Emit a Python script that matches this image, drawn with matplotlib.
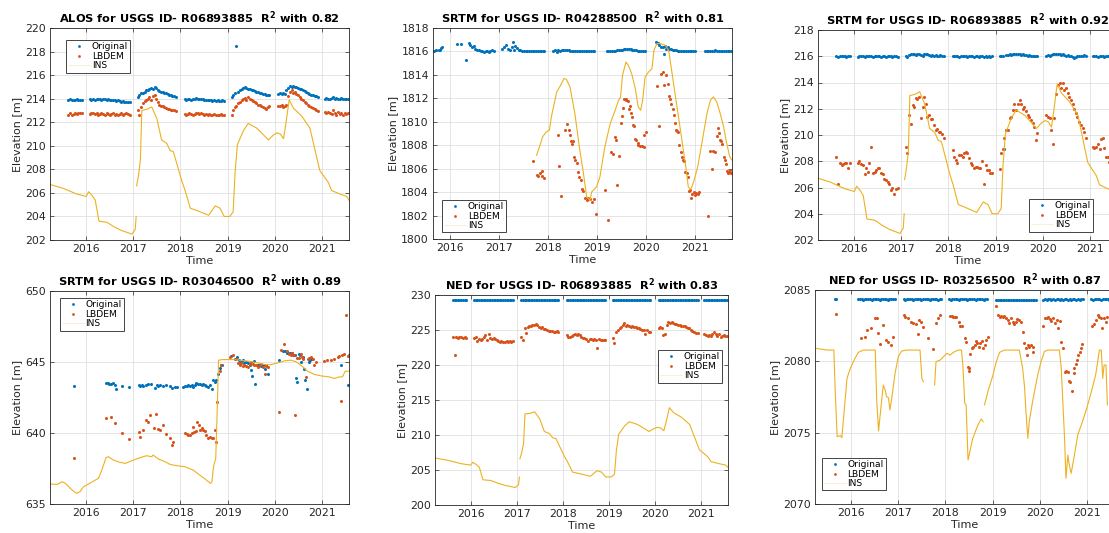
import numpy as np
import matplotlib
matplotlib.use("Agg")
import matplotlib.pyplot as plt

nan = np.nan

BLUE = "#0072BD"
RED = "#D95319"
YELLOW = "#EDB120"
INK = "#262626"

YEARS = [2016, 2017, 2018, 2019, 2020, 2021]

# ---------------------------------------------------------------- R06893885
# pass dates shared by the three DEMs at this gauge
dates_885 = [
    2015.62, 2015.66, 2015.69, 2015.73, 2015.76, 2015.80, 2015.83, 2015.87, 2015.90,
    2016.08, 2016.11, 2016.15, 2016.18, 2016.22, 2016.25, 2016.29, 2016.32, 2016.36, 2016.39,
    2016.43, 2016.46, 2016.50, 2016.53, 2016.57, 2016.60, 2016.64, 2016.67, 2016.71, 2016.74,
    2016.78, 2016.81, 2016.85, 2016.88, 2016.92,
    2017.10, 2017.13, 2017.17, 2017.20, 2017.24, 2017.27, 2017.31, 2017.34, 2017.38, 2017.41,
    2017.45, 2017.48, 2017.52, 2017.55, 2017.59, 2017.62, 2017.66, 2017.69, 2017.73, 2017.76,
    2017.80, 2017.83, 2017.87, 2017.90,
    2018.09, 2018.12, 2018.16, 2018.19, 2018.23, 2018.26, 2018.30, 2018.33, 2018.37, 2018.40,
    2018.44, 2018.47, 2018.51, 2018.54, 2018.58, 2018.61, 2018.65, 2018.68, 2018.72, 2018.75,
    2018.79, 2018.82, 2018.86, 2018.89, 2018.92,
    2019.09, 2019.12, 2019.16, 2019.19, 2019.23, 2019.26, 2019.30, 2019.33, 2019.37, 2019.40,
    2019.44, 2019.47, 2019.51, 2019.54, 2019.58, 2019.61, 2019.65, 2019.68, 2019.72, 2019.75,
    2019.79, 2019.82, 2019.86, 2019.89,
    2020.08, 2020.11, 2020.15, 2020.18, 2020.22, 2020.25, 2020.29, 2020.32, 2020.36, 2020.39,
    2020.43, 2020.46, 2020.50, 2020.53, 2020.57, 2020.60, 2020.64, 2020.67, 2020.71, 2020.74,
    2020.78, 2020.81, 2020.85, 2020.88, 2020.92,
    2021.07, 2021.10, 2021.14, 2021.17, 2021.21, 2021.24, 2021.28, 2021.31, 2021.35, 2021.38,
    2021.42, 2021.45, 2021.49, 2021.52, 2021.56,
]

alos_orig = [
    213.90, 213.95, 213.90, 213.85, 213.90, 213.95, 213.90, 213.85, 213.90,
    213.95, 213.90, 213.95, 213.90, 213.95, 214.00, 213.95, 213.90, 214.00, 213.95,
    213.90, 213.95, 213.90, 213.85, 213.90, 213.85, 213.80, 213.85, 213.80, 213.75,
    213.80, 213.75, 213.70, 213.75, 213.70,
    214.10, 214.30, 214.45, 214.50, 214.60, 214.70, 214.75, 214.80, 214.90, 214.85,
    214.95, 214.90, 214.75, 214.65, 214.60, 214.55, 214.50, 214.45, 214.40, 214.35,
    214.30, 214.25, 214.20, 214.15,
    213.95, 213.90, 214.00, 213.95, 213.90, 213.95, 214.00, 214.05, 214.00, 213.95,
    214.00, 213.95, 213.90, 213.90, 213.85, 213.90, 213.85, 213.80, 213.85, 213.80,
    213.85, 213.80, 213.80, 213.85, 213.80,
    214.15, 214.35, 214.45, 218.50, 214.60, 214.70, 214.80, 214.90, 214.95, 214.90,
    214.85, 214.80, 214.75, 214.70, 214.65, 214.60, 214.55, 214.50, 214.45, 214.40,
    214.40, 214.35, 214.30, 214.35,
    214.40, 214.45, 214.40, 214.45, 214.40, 214.70, 214.90, 215.05, 215.00, 215.05,
    215.00, 214.95, 214.90, 214.85, 214.80, 214.70, 214.65, 214.55, 214.50, 214.40,
    214.35, 214.30, 214.25, 214.20, 214.15,
    214.00, 214.05, 214.00, 213.95, 214.05, 214.10, 214.00, 214.05, 213.95, 214.00,
    214.05, 214.00, 213.95, 214.00, 213.95,
]

alos_lbdem = [
    212.65, 212.75, 212.60, 212.70, 212.75, 212.70, 212.80, 212.75, 212.80,
    212.70, 212.75, 212.80, 212.70, 212.75, 212.65, 212.70, 212.80, 212.70, 212.60,
    212.75, 212.70, 212.65, 212.70, 212.75, 212.65, 212.70, 212.60, 212.70, 212.75,
    212.65, 212.70, 212.75, 212.70, 212.65,
    213.00, 212.65, 213.30, 213.60, 213.80, 213.90, 214.00, 214.10, 213.85, 214.20,
    214.30, 214.00, 213.70, 213.50, 213.40, 213.35, 213.30, 213.20, 213.10, 213.10,
    213.05, 213.00, 213.00, 212.95,
    212.70, 212.65, 212.70, 212.75, 212.70, 212.65, 212.70, 212.75, 212.80, 212.70,
    212.75, 212.70, 212.65, 212.70, 212.60, 212.70, 212.65, 212.60, 212.70, 212.65,
    212.60, 212.65, 212.70, 212.60, 212.65,
    212.60, 213.00, 213.30, 213.40, 213.60, 213.70, 213.90, 214.00, 214.05, 213.90,
    214.10, 214.00, 213.85, 213.80, 213.70, 213.60, 213.50, 213.45, 213.35, 213.30,
    213.20, 213.15, 213.30, 213.40,
    213.40, 213.35, 213.45, 213.30, 213.40, 213.50, 214.20, 214.60, 214.70, 214.50,
    214.60, 214.40, 214.30, 214.15, 214.00, 213.85, 213.70, 213.60, 213.50, 213.40,
    213.30, 213.20, 213.10, 213.05, 212.95,
    212.90, 212.75, 212.85, 212.80, 212.70, 213.00, 212.80, 212.65, 212.90, 212.70,
    212.80, 212.60, 212.75, 212.70, 212.80,
]

srtm885_orig = [
    216.00, 215.98, 216.00, 216.00, 216.02, 216.00, 215.98, 216.00, 216.00,
    215.98, 216.00, 216.02, 216.00, 215.98, 216.00, 216.00, 216.02, 216.00, 215.98,
    216.00, 216.00, 216.02, 216.00, 215.98, 216.00, 216.00, 215.98, 216.00, 216.02,
    216.00, 215.98, 216.00, 216.00, 215.98,
    216.05, 215.95, 216.10, 216.15, 216.20, 216.15, 216.10, 216.20, 216.15, 216.10,
    216.05, 216.15, 216.20, 216.15, 216.10, 216.05, 216.10, 216.05, 216.10, 216.05,
    216.05, 216.10, 216.05, 216.05,
    216.02, 216.00, 216.02, 216.00, 215.98, 216.00, 216.02, 216.00, 216.00, 215.98,
    216.00, 216.02, 216.00, 215.98, 216.00, 216.00, 215.98, 216.00, 216.00, 215.98,
    216.00, 215.98, 216.00, 215.98, 216.00,
    216.00, 216.05, 216.05, 208.95, 216.10, 216.10, 216.15, 216.10, 216.15, 216.20,
    216.15, 216.20, 216.15, 216.10, 216.15, 216.10, 216.10, 216.05, 216.10, 216.05,
    216.05, 216.00, 216.05, 216.00,
    216.05, 216.10, 216.05, 216.10, 216.15, 216.20, 216.15, 216.20, 216.15, 216.10,
    216.15, 216.10, 216.05, 216.10, 216.05, 216.00, 215.95, 215.90, 215.95, 216.00,
    216.05, 216.00, 216.05, 216.10, 216.05,
    216.00, 216.02, 216.00, 215.98, 216.00, 216.02, 216.00, 215.98, 216.00, 216.02,
    216.00, 216.00, 215.98, 216.00, 216.00,
]

srtm885_lbdem = [
    208.35, 206.30, 207.85, 207.70, 207.80, 207.85, 207.85, 207.50, 207.85,
    207.90, 208.00, 207.80, 207.70, 207.00, 207.50, 207.20, 207.85, 209.05, 207.10,
    207.20, 207.35, 207.45, 207.45, 207.10, 207.00, 206.65, 206.60, 206.40, 206.30,
    205.80, 205.95, 205.50, 205.90, 206.00,
    209.05, 208.65, 211.50, 210.85, 212.30, 212.15, 212.80, 212.75, 212.90, 211.30,
    212.15, 212.90, 212.40, 211.40, 211.50, 211.20, 211.20, 210.75, 210.40, 210.45,
    210.25, 210.20, 210.10, 209.75,
    208.85, 208.35, 208.10, 207.90, 208.45, 208.45, 208.35, 208.65, 208.70, 208.60,
    208.25, 207.90, 207.75, 207.45, 207.60, 207.60, 207.45, 207.45, 208.00, 206.30,
    207.70, 207.35, 207.35, 207.10, 207.10,
    207.40, 208.60, 208.95, 209.75, 210.40, 210.40, 211.30, 211.35, 211.90, 212.40,
    211.90, 212.40, 212.65, 212.40, 212.00, 212.15, 211.80, 211.50, 211.40, 211.15,
    210.90, 210.60, 209.60, 210.15,
    211.50, 211.40, 211.30, 210.40, 209.35, 211.30, 213.10, 213.80, 214.00, 213.60,
    214.00, 213.45, 213.60, 213.20, 212.90, 212.65, 212.40, 212.00, 211.65, 211.35,
    211.00, 210.75, 210.50, 210.20, 209.75,
    209.10, 209.00, 209.05, 209.30, 208.90, 209.70, 209.80, 209.00, 208.35, 208.35,
    207.95, 208.20, 208.50, 208.10, 208.30,
]

ned885_orig = [
    229.30, 229.30, 229.28, 229.30, 229.32, 229.30, 229.30, 229.28, 229.30,
    229.30, 229.28, 229.30, 229.32, 229.30, 229.30, 229.28, 229.30, 229.30, 229.32,
    229.30, 229.28, 229.30, 229.30, 229.32, 229.30, 229.28, 229.30, 229.30, 229.32,
    229.30, 229.30, 229.28, 229.30, 229.30,
    229.30, 229.32, 229.30, 229.28, 229.30, 229.30, 229.32, 229.30, 229.28, 229.30,
    229.30, 229.32, 229.30, 229.28, 229.30, 229.30, 229.32, 229.30, 229.28, 229.30,
    229.30, 229.32, 229.30, 229.30,
    229.30, 229.28, 229.30, 229.32, 229.30, 229.30, 229.28, 229.30, 229.30, 229.32,
    229.30, 229.28, 229.30, 229.30, 229.32, 229.30, 229.28, 229.30, 229.30, 229.32,
    229.30, 229.30, 229.28, 229.30, 229.30,
    229.30, 229.32, 229.30, 229.28, 229.30, 229.30, 229.32, 229.30, 229.28, 229.30,
    229.30, 229.32, 229.30, 229.28, 229.30, 229.30, 229.32, 229.30, 229.28, 229.30,
    229.30, 229.32, 229.30, 229.30,
    229.30, 229.28, 229.30, 229.32, 229.30, 229.30, 229.28, 229.30, 229.30, 229.32,
    229.30, 229.28, 229.30, 229.30, 229.32, 229.30, 229.28, 229.30, 229.30, 229.32,
    229.30, 229.30, 229.28, 229.30, 229.30,
    229.30, 229.28, 229.30, 229.32, 229.30, 229.30, 229.28, 229.30, 229.30, 229.32,
    229.30, 229.28, 229.30, 229.30, 229.30,
]

ned885_lbdem = [
    224.05, 221.50, 224.05, 223.90, 224.00, 224.05, 223.90, 223.95, 223.90,
    223.90, 224.05, 223.40, 223.70, 223.55, 223.70, 224.05, 224.30, 223.55, 224.50,
    223.80, 223.70, 223.90, 223.70, 223.55, 223.50, 223.35, 223.40, 223.25, 223.25,
    223.40, 223.25, 223.50, 223.30, 223.45,
    224.05, 223.55, 225.30, 224.60, 225.45, 225.55, 225.60, 225.70, 225.70, 225.85,
    225.70, 225.45, 225.25, 225.40, 225.10, 225.10, 225.00, 224.90, 224.85, 224.85,
    224.75, 224.75, 224.80, 224.75,
    224.30, 224.05, 223.95, 224.15, 224.30, 224.40, 224.30, 224.45, 224.30, 224.05,
    223.90, 223.80, 223.70, 223.40, 223.70, 223.70, 223.60, 223.70, 223.55, 222.40,
    223.70, 223.55, 223.60, 223.55, 223.60,
    223.80, 223.20, 224.75, 225.00, 225.25, 225.45, 225.70, 225.95, 225.55, 225.70,
    225.55, 225.45, 225.55, 225.45, 225.40, 225.25, 225.25, 225.15, 225.00, 225.00,
    224.40, 225.00, 224.75, 224.75,
    225.30, 225.45, 225.25, 224.30, 224.50, 225.70, 226.10, 225.95, 226.10, 225.95,
    225.85, 225.80, 225.70, 225.70, 225.60, 225.55, 225.55, 225.45, 225.30, 225.25,
    225.00, 224.85, 224.75, 224.60, 224.60,
    224.50, 224.30, 224.20, 224.30, 224.20, 224.50, 224.75, 224.50, 224.20, 224.45,
    224.05, 224.20, 224.30, 224.15, 224.10,
]

ins_885_t = [
    2015.24, 2015.50, 2015.80, 2016.00, 2016.05, 2016.12, 2016.19, 2016.27, 2016.44, 2016.60,
    2016.75, 2016.90, 2016.97, 2017.04, 2017.06, nan, 2017.07, 2017.11, 2017.15, 2017.18,
    2017.29, 2017.39, 2017.50, 2017.60, 2017.71, 2017.78, 2017.85, 2018.03, 2018.10, 2018.21,
    2018.35, 2018.60, 2018.74, 2018.84, 2018.93, 2019.05, 2019.12, 2019.16, 2019.21, 2019.34,
    2019.44, 2019.62, 2019.87, 2019.97, 2020.05, 2020.12, 2020.19, 2020.24, 2020.31, 2020.40,
    2020.58, 2020.68, 2020.75, 2020.86, 2020.96, 2021.14, 2021.21, 2021.39, 2021.53, 2021.59,
]
ins_885_v = [
    206.7, 206.4, 205.9, 205.7, 206.1, 205.8, 205.4, 203.6, 203.5, 203.1,
    202.8, 202.6, 202.5, 202.9, 204.0, nan, 206.6, 207.5, 208.8, 213.0,
    213.1, 213.3, 212.3, 210.5, 210.2, 209.6, 209.5, 207.0, 206.2, 204.7,
    204.5, 204.1, 204.9, 204.7, 204.0, 204.0, 204.4, 207.7, 210.1, 211.3,
    211.9, 211.5, 210.5, 210.9, 211.1, 211.0, 210.6, 211.9, 213.9, 213.2,
    212.5, 211.9, 211.5, 209.6, 207.9, 206.9, 206.2, 205.9, 205.7, 205.3,
]

# ---------------------------------------------------------------- R04288500
srtm288_orig = [
    (2015.69, 1816.04), (2015.73, 1816.10), (2015.78, 1816.10), (2015.81, 1816.15),
    (2015.83, 1816.30), (2015.85, 1816.38),
    (2016.15, 1816.67), (2016.24, 1816.67), (2016.33, 1815.30), (2016.39, 1816.72),
    (2016.42, 1816.52), (2016.46, 1816.38), (2016.49, 1816.44), (2016.52, 1816.24),
    (2016.56, 1816.10), (2016.59, 1816.15), (2016.63, 1816.00), (2016.66, 1816.04),
    (2016.69, 1815.95), (2016.73, 1816.04), (2016.76, 1816.00), (2016.80, 1815.95),
    (2016.83, 1816.04), (2016.86, 1816.10), (2016.90, 1816.04),
    (2017.07, 1816.24), (2017.10, 1816.38), (2017.14, 1816.52), (2017.19, 1816.24),
    (2017.22, 1816.15), (2017.26, 1816.38), (2017.29, 1816.80), (2017.31, 1816.10),
    (2017.34, 1816.44), (2017.37, 1816.32), (2017.41, 1816.15), (2017.44, 1816.10),
    (2017.48, 1816.04), (2017.51, 1816.02), (2017.55, 1816.04), (2017.58, 1816.00),
    (2017.62, 1816.02), (2017.65, 1816.04), (2017.69, 1816.00), (2017.72, 1816.02),
    (2017.76, 1816.00), (2017.79, 1816.04), (2017.83, 1816.02), (2017.86, 1816.00),
    (2017.90, 1816.04), (2017.93, 1816.06),
    (2018.11, 1816.06), (2018.14, 1816.10), (2018.18, 1815.95), (2018.21, 1816.10),
    (2018.24, 1816.00), (2018.28, 1816.12), (2018.31, 1816.15), (2018.35, 1816.12),
    (2018.38, 1816.10), (2018.42, 1816.10), (2018.45, 1816.08), (2018.49, 1816.06),
    (2018.52, 1816.06), (2018.56, 1816.04), (2018.59, 1816.04), (2018.63, 1816.02),
    (2018.66, 1816.02), (2018.70, 1816.00), (2018.73, 1816.02), (2018.77, 1816.00),
    (2018.80, 1816.00), (2018.84, 1816.02), (2018.87, 1816.00), (2018.91, 1816.02),
    (2018.94, 1816.00),
    (2019.20, 1816.00), (2019.23, 1816.02), (2019.27, 1816.04), (2019.30, 1816.05),
    (2019.34, 1816.06), (2019.37, 1816.08), (2019.41, 1816.10), (2019.44, 1816.12),
    (2019.48, 1816.15), (2019.51, 1816.15), (2019.55, 1816.18), (2019.58, 1816.20),
    (2019.62, 1816.18), (2019.65, 1816.20), (2019.69, 1816.18), (2019.72, 1816.15),
    (2019.76, 1816.12), (2019.79, 1816.10), (2019.83, 1816.08), (2019.86, 1816.06),
    (2019.90, 1816.05), (2019.93, 1816.06), (2019.97, 1816.04),
    (2020.20, 1816.80), (2020.24, 1816.72), (2020.27, 1816.52), (2020.31, 1816.38),
    (2020.34, 1816.40), (2020.37, 1815.80), (2020.39, 1816.50), (2020.41, 1816.20),
    (2020.44, 1816.35), (2020.47, 1816.25), (2020.50, 1816.20), (2020.54, 1816.15),
    (2020.57, 1816.12), (2020.61, 1816.10), (2020.64, 1816.08), (2020.68, 1816.06),
    (2020.71, 1816.04), (2020.75, 1816.04), (2020.78, 1816.02), (2020.82, 1816.02),
    (2020.85, 1816.00), (2020.89, 1816.02), (2020.92, 1816.00), (2020.96, 1816.02),
    (2020.99, 1816.00),
    (2021.20, 1816.00), (2021.24, 1816.02), (2021.27, 1816.00), (2021.31, 1816.04),
    (2021.34, 1816.06), (2021.38, 1816.08), (2021.41, 1816.10), (2021.45, 1816.08),
    (2021.48, 1816.06), (2021.52, 1816.04), (2021.55, 1816.02), (2021.59, 1816.04),
    (2021.62, 1816.02), (2021.66, 1816.00), (2021.69, 1816.02), (2021.73, 1816.00),
]

srtm288_lbdem = [
    (2017.70, 1806.64), (2017.77, 1805.50), (2017.80, 1805.39), (2017.84, 1805.64),
    (2017.87, 1805.78), (2017.89, 1805.39), (2017.92, 1805.22),
    (2018.20, 1808.85), (2018.22, 1806.20), (2018.27, 1803.65), (2018.35, 1809.34),
    (2018.39, 1809.85), (2018.43, 1809.34), (2018.45, 1808.90), (2018.47, 1808.37),
    (2018.50, 1808.14), (2018.52, 1808.37), (2018.54, 1807.00), (2018.56, 1806.78),
    (2018.59, 1806.50), (2018.62, 1805.70), (2018.64, 1805.30), (2018.67, 1805.02),
    (2018.69, 1804.30), (2018.72, 1804.10), (2018.76, 1803.54), (2018.79, 1803.30),
    (2018.82, 1803.50), (2018.86, 1803.37), (2018.90, 1803.17), (2018.94, 1803.37),
    (2018.97, 1802.10),
    (2019.16, 1804.22), (2019.22, 1801.60), (2019.28, 1807.43), (2019.32, 1807.23),
    (2019.37, 1808.71), (2019.39, 1808.48), (2019.40, 1804.60), (2019.44, 1807.06),
    (2019.48, 1809.90), (2019.50, 1810.47), (2019.52, 1811.20), (2019.55, 1811.92),
    (2019.59, 1811.92), (2019.60, 1811.83), (2019.63, 1811.78), (2019.65, 1811.12),
    (2019.67, 1811.32), (2019.69, 1810.76), (2019.71, 1810.41), (2019.73, 1809.70),
    (2019.75, 1809.62), (2019.78, 1808.57), (2019.80, 1808.43), (2019.83, 1808.23),
    (2019.84, 1808.06), (2019.88, 1807.94), (2019.91, 1807.91), (2019.95, 1807.86),
    (2019.96, 1808.85), (2019.99, 1809.14),
    (2020.22, 1813.03), (2020.27, 1809.62), (2020.30, 1814.05), (2020.35, 1814.25),
    (2020.37, 1813.11), (2020.40, 1813.97), (2020.44, 1813.26), (2020.47, 1812.18),
    (2020.49, 1811.95), (2020.51, 1811.55), (2020.54, 1811.12), (2020.56, 1810.56),
    (2020.58, 1809.90), (2020.61, 1809.28), (2020.63, 1809.19), (2020.65, 1809.14),
    (2020.68, 1808.00), (2020.71, 1807.43), (2020.73, 1807.00), (2020.76, 1806.78),
    (2020.78, 1806.67), (2020.80, 1805.73), (2020.83, 1805.59), (2020.85, 1805.30),
    (2020.88, 1804.08), (2020.90, 1804.22), (2020.92, 1803.46), (2020.94, 1803.88),
    (2020.97, 1804.02), (2020.99, 1803.74), (2021.01, 1803.94), (2021.05, 1803.82),
    (2021.07, 1804.02),
    (2021.27, 1801.95), (2021.31, 1807.52), (2021.34, 1806.01), (2021.37, 1807.52),
    (2021.41, 1807.43), (2021.44, 1808.77), (2021.46, 1809.50), (2021.48, 1809.05),
    (2021.51, 1808.48), (2021.53, 1808.34), (2021.55, 1808.14), (2021.58, 1807.00),
    (2021.60, 1806.72), (2021.63, 1806.44), (2021.65, 1805.81), (2021.67, 1805.64),
    (2021.69, 1805.73), (2021.71, 1805.87), (2021.73, 1805.64),
]

ins_288 = [
    (2017.77, 1807.15), (2017.84, 1808.00), (2017.89, 1808.70), (2017.97, 1809.14),
    (2018.03, 1809.28), (2018.07, 1810.40), (2018.18, 1812.55), (2018.24, 1812.97),
    (2018.33, 1813.70), (2018.38, 1813.60), (2018.45, 1812.97), (2018.55, 1810.70),
    (2018.64, 1807.86), (2018.72, 1805.73), (2018.79, 1803.60), (2018.86, 1803.30),
    (2018.89, 1804.00), (2018.99, 1804.45), (2019.06, 1805.30), (2019.16, 1807.86),
    (2019.27, 1809.85), (2019.37, 1810.98), (2019.44, 1811.83), (2019.48, 1812.12),
    (2019.52, 1813.97), (2019.59, 1815.10), (2019.64, 1814.82), (2019.71, 1814.05),
    (2019.78, 1812.83), (2019.84, 1811.27), (2019.89, 1810.98), (2019.93, 1811.83),
    (2019.98, 1813.82), (2020.05, 1814.25), (2020.12, 1814.53), (2020.16, 1816.10),
    (2020.22, 1816.67), (2020.29, 1816.67), (2020.39, 1816.52), (2020.46, 1816.10),
    (2020.52, 1814.39), (2020.59, 1812.40), (2020.66, 1810.41), (2020.73, 1808.43),
    (2020.80, 1806.44), (2020.86, 1804.45), (2020.91, 1804.22), (2020.97, 1804.88),
    (2021.05, 1806.15), (2021.10, 1807.30), (2021.17, 1809.00), (2021.24, 1810.70),
    (2021.31, 1811.83), (2021.37, 1812.12), (2021.44, 1811.69), (2021.51, 1810.70),
    (2021.58, 1809.56), (2021.63, 1808.43), (2021.70, 1807.06), (2021.75, 1806.72),
]

# ---------------------------------------------------------------- R03046500
srtm046_orig = [
    (2015.75, 643.32),
    (2016.42, 643.55), (2016.46, 643.53), (2016.49, 643.48), (2016.53, 643.44),
    (2016.56, 643.53), (2016.60, 643.41), (2016.63, 643.09), (2016.75, 643.32),
    (2016.90, 643.25),
    (2017.11, 643.37), (2017.14, 643.32), (2017.18, 643.37), (2017.21, 643.32),
    (2017.27, 643.41), (2017.32, 643.44), (2017.37, 643.48), (2017.46, 643.18),
    (2017.50, 643.37), (2017.53, 643.32), (2017.57, 643.37), (2017.64, 643.32),
    (2017.69, 643.37), (2017.78, 643.30), (2017.83, 643.18), (2017.88, 643.21),
    (2017.92, 643.21),
    (2018.06, 643.25), (2018.09, 643.32), (2018.13, 643.30), (2018.16, 643.37),
    (2018.20, 643.32), (2018.24, 643.41), (2018.27, 643.25), (2018.31, 643.37),
    (2018.34, 643.55), (2018.38, 643.48), (2018.41, 643.44), (2018.45, 643.37),
    (2018.48, 643.48), (2018.52, 643.41), (2018.55, 643.32), (2018.59, 643.25),
    (2018.62, 643.37), (2018.66, 643.09), (2018.69, 643.72), (2018.73, 643.60),
    (2018.76, 643.72), (2018.80, 644.19), (2018.83, 644.59), (2018.86, 644.77),
    (2018.89, 644.77),
    (2019.08, 645.43), (2019.15, 645.24), (2019.20, 645.36), (2019.24, 645.13),
    (2019.26, 644.96), (2019.29, 645.01), (2019.33, 645.13), (2019.36, 644.96),
    (2019.40, 645.01), (2019.43, 644.96), (2019.47, 644.77), (2019.50, 644.42),
    (2019.53, 644.00), (2019.56, 645.06), (2019.59, 643.48), (2019.65, 644.82),
    (2019.68, 644.77), (2019.72, 644.70), (2019.75, 644.82), (2019.79, 644.54),
    (2019.82, 644.82), (2019.86, 644.19),
    (2020.09, 645.17), (2020.17, 645.76), (2020.22, 645.76), (2020.26, 645.66),
    (2020.29, 645.66), (2020.33, 645.66), (2020.36, 645.64), (2020.40, 645.52),
    (2020.43, 645.48), (2020.46, 643.84), (2020.48, 643.60), (2020.51, 645.59),
    (2020.54, 645.52), (2020.57, 645.01), (2020.60, 645.36), (2020.63, 644.54),
    (2020.65, 643.72), (2020.68, 643.09), (2020.72, 645.01), (2020.75, 645.13),
    (2020.79, 645.24),
    (2021.41, 644.77), (2021.55, 643.37), (2021.57, 645.52),
]

srtm046_lbdem = [
    (2015.75, 638.26),
    (2016.42, 641.07), (2016.53, 641.14), (2016.60, 640.67), (2016.75, 640.02),
    (2016.90, 639.57),
    (2017.11, 640.09), (2017.14, 639.74), (2017.20, 640.20), (2017.27, 640.95),
    (2017.31, 640.79), (2017.36, 641.26), (2017.43, 640.32), (2017.48, 641.33),
    (2017.53, 640.25), (2017.57, 640.20), (2017.62, 640.56), (2017.69, 639.90),
    (2017.78, 639.62), (2017.83, 639.15), (2017.85, 639.38),
    (2018.09, 639.97), (2018.13, 639.90), (2018.16, 639.85), (2018.20, 639.85),
    (2018.24, 640.02), (2018.26, 640.44), (2018.29, 640.09), (2018.33, 640.13),
    (2018.36, 640.79), (2018.39, 640.56), (2018.41, 640.20), (2018.45, 640.32),
    (2018.48, 640.20), (2018.52, 640.16), (2018.55, 639.85), (2018.59, 639.62),
    (2018.62, 639.74), (2018.66, 639.62), (2018.69, 639.67), (2018.73, 640.20),
    (2018.75, 639.38), (2018.78, 642.15), (2018.83, 644.40), (2018.87, 644.80),
    (2019.06, 645.36), (2019.11, 645.52), (2019.18, 645.24), (2019.22, 644.94),
    (2019.26, 644.82), (2019.29, 644.96), (2019.33, 644.73), (2019.36, 644.77),
    (2019.40, 644.70), (2019.43, 644.66), (2019.47, 644.89), (2019.50, 645.01),
    (2019.54, 644.89), (2019.57, 644.77), (2019.61, 644.82), (2019.64, 644.66),
    (2019.68, 644.77), (2019.72, 644.89), (2019.75, 644.66), (2019.79, 644.12),
    (2019.82, 644.73), (2019.86, 644.66),
    (2020.10, 641.49), (2020.14, 645.83), (2020.21, 646.25), (2020.26, 645.76),
    (2020.31, 645.59), (2020.35, 645.52), (2020.38, 645.66), (2020.42, 645.48),
    (2020.44, 641.26), (2020.48, 645.29), (2020.51, 645.29), (2020.55, 645.59),
    (2020.58, 645.36), (2020.61, 645.24), (2020.67, 643.95), (2020.71, 645.20),
    (2020.74, 645.29), (2020.78, 645.36), (2020.81, 645.24), (2020.83, 644.77),
    (2020.87, 645.01),
    (2021.05, 645.06), (2021.12, 645.13), (2021.20, 645.13), (2021.27, 645.20),
    (2021.34, 645.36), (2021.37, 645.43), (2021.41, 642.24), (2021.44, 645.48),
    (2021.48, 645.59), (2021.51, 648.29), (2021.55, 645.43),
]

ins_046 = [
    (2015.24, 636.41), (2015.38, 636.38), (2015.49, 636.57), (2015.56, 636.45),
    (2015.66, 636.10), (2015.79, 635.75), (2015.87, 635.87), (2015.94, 636.22),
    (2016.01, 636.34), (2016.16, 636.62), (2016.26, 636.81), (2016.33, 637.39),
    (2016.42, 638.26), (2016.47, 638.33), (2016.58, 638.09), (2016.72, 637.93),
    (2016.83, 637.86), (2017.00, 638.09), (2017.14, 638.26), (2017.28, 638.40),
    (2017.39, 638.33), (2017.42, 638.45), (2017.53, 638.17), (2017.67, 637.98),
    (2017.78, 637.79), (2017.92, 637.70), (2018.09, 637.63), (2018.27, 637.39),
    (2018.41, 637.04), (2018.55, 636.69), (2018.64, 636.45), (2018.67, 636.57),
    (2018.69, 637.27), (2018.71, 637.74), (2018.75, 638.21), (2018.78, 641.49),
    (2018.81, 645.13), (2018.90, 645.17), (2019.12, 645.17), (2019.26, 645.13),
    (2019.44, 645.06), (2019.61, 644.96), (2019.79, 644.82), (2019.93, 644.82),
    (2020.07, 644.94), (2020.21, 645.08), (2020.35, 645.13), (2020.46, 645.01),
    (2020.60, 644.66), (2020.70, 644.35), (2020.85, 644.12), (2020.99, 644.02),
    (2021.16, 643.95), (2021.27, 643.84), (2021.37, 643.95), (2021.44, 643.95),
    (2021.50, 644.35), (2021.57, 644.35),
]

# ---------------------------------------------------------------- R03256500
dates_256 = [
    2015.66, 2015.68,
    2016.15, 2016.18, 2016.22, 2016.25, 2016.29, 2016.32, 2016.36, 2016.39, 2016.43, 2016.46,
    2016.50, 2016.53, 2016.57, 2016.60, 2016.64, 2016.67, 2016.71, 2016.74, 2016.78, 2016.81,
    2016.85, 2016.88, 2016.92,
    2017.11, 2017.14, 2017.18, 2017.21, 2017.25, 2017.28, 2017.32, 2017.35, 2017.39, 2017.42,
    2017.46, 2017.49, 2017.53, 2017.56, 2017.60, 2017.63, 2017.67, 2017.70, 2017.74, 2017.77,
    2017.81, 2017.84, 2017.88, 2017.91,
    2018.08, 2018.11, 2018.15, 2018.18, 2018.22, 2018.25, 2018.29, 2018.32, 2018.36, 2018.39,
    2018.43, 2018.46, 2018.50, 2018.53, 2018.57, 2018.60, 2018.64, 2018.67, 2018.71, 2018.74,
    2018.78, 2018.81, 2018.85, 2018.88,
    2019.08, 2019.11, 2019.15, 2019.18, 2019.22, 2019.25, 2019.29, 2019.32, 2019.36, 2019.39,
    2019.43, 2019.46, 2019.50, 2019.53, 2019.57, 2019.60, 2019.64, 2019.67, 2019.71, 2019.74,
    2019.78, 2019.81, 2019.85, 2019.88, 2019.92,
    2020.08, 2020.11, 2020.15, 2020.18, 2020.22, 2020.25, 2020.29, 2020.32, 2020.36, 2020.39,
    2020.43, 2020.46, 2020.50, 2020.53, 2020.57, 2020.60, 2020.64, 2020.67, 2020.71, 2020.74,
    2020.78, 2020.81, 2020.85, 2020.88, 2020.92,
    2021.10, 2021.13, 2021.17, 2021.20, 2021.24, 2021.27, 2021.31, 2021.34, 2021.38, 2021.41,
    2021.45, 2021.48, 2021.52, 2021.55,
]

ned256_orig = [
    2084.35, 2084.35,
    2084.35, 2084.37, 2084.35, 2084.33, 2084.35, 2084.35, 2084.37, 2084.35, 2084.33, 2084.35,
    2084.35, 2084.37, 2084.35, 2084.33, 2084.35, 2084.35, 2084.37, 2084.35, 2084.33, 2084.35,
    2084.35, 2084.37, 2084.35,
    2084.35, 2084.33, 2084.35, 2084.37, 2084.35, 2084.35, 2084.33, 2084.35, 2084.37, 2084.35,
    2084.35, 2084.33, 2084.35, 2084.37, 2084.35, 2084.35, 2084.33, 2084.35, 2084.37, 2084.35,
    2084.35, 2084.33, 2084.35, 2084.35,
    2084.35, 2084.33, 2084.35, 2084.37, 2084.35, 2084.35, 2084.33, 2084.35, 2084.37, 2084.35,
    2084.35, 2084.33, 2084.35, 2084.37, 2084.35, 2084.35, 2084.33, 2084.35, 2084.37, 2084.35,
    2084.35, 2084.33, 2084.35, 2084.35,
    2084.30, 2084.28, 2084.30, 2084.32, 2084.30, 2084.30, 2084.32, 2084.30, 2084.30, 2084.32,
    2084.30, 2084.30, 2084.32, 2084.30, 2084.30, 2084.32, 2084.30, 2084.30, 2084.32, 2084.30,
    2084.30, 2084.32, 2084.30, 2084.30, 2084.32,
    2084.33, 2084.35, 2084.33, 2084.35, 2084.35, 2084.33, 2084.35, 2084.33, 2084.35, 2084.35,
    2084.33, 2084.35, 2084.33, 2084.35, 2084.35, 2084.33, 2084.35, 2084.33, 2084.35, 2084.35,
    2084.33, 2084.35, 2084.33, 2084.35, 2084.35,
    2084.35, 2084.33, 2084.35, 2084.37, 2084.35, 2084.35, 2084.33, 2084.35, 2084.37, 2084.35,
    2084.35, 2084.33, 2084.35, 2084.35,
]

ned256_lbdem = [
    (2015.68, 2083.29),
    (2016.20, 2081.61), (2016.30, 2081.73), (2016.33, 2082.20), (2016.42, 2082.36),
    (2016.51, 2083.01), (2016.54, 2083.06), (2016.56, 2081.96), (2016.60, 2081.21),
    (2016.67, 2082.55), (2016.74, 2081.50), (2016.79, 2081.38), (2016.84, 2081.14),
    (2016.88, 2081.73),
    (2017.11, 2083.25), (2017.15, 2083.13), (2017.21, 2083.06), (2017.26, 2082.78),
    (2017.32, 2082.66), (2017.37, 2082.59), (2017.41, 2081.89), (2017.44, 2082.90),
    (2017.49, 2082.78), (2017.53, 2082.43), (2017.63, 2081.61), (2017.74, 2080.86),
    (2017.80, 2082.66), (2017.85, 2083.01), (2017.88, 2083.25),
    (2018.09, 2083.20), (2018.13, 2083.18), (2018.16, 2083.13), (2018.20, 2083.10),
    (2018.23, 2083.08), (2018.28, 2082.78), (2018.32, 2082.50), (2018.36, 2082.50),
    (2018.41, 2081.66), (2018.44, 2081.33), (2018.47, 2079.63), (2018.49, 2079.51),
    (2018.51, 2079.32), (2018.53, 2080.49), (2018.56, 2080.96), (2018.58, 2081.03),
    (2018.62, 2081.14), (2018.65, 2081.43), (2018.67, 2081.26), (2018.71, 2081.03),
    (2018.74, 2081.26), (2018.77, 2081.43), (2018.80, 2080.96), (2018.83, 2081.14),
    (2018.87, 2081.50), (2018.90, 2081.73),
    (2019.08, 2083.88), (2019.11, 2083.25), (2019.15, 2083.13), (2019.18, 2083.20),
    (2019.22, 2083.13), (2019.25, 2083.20), (2019.29, 2083.06), (2019.32, 2082.90),
    (2019.36, 2082.66), (2019.39, 2083.01), (2019.43, 2082.73), (2019.46, 2082.59),
    (2019.50, 2082.78), (2019.53, 2082.97), (2019.57, 2082.90), (2019.60, 2082.78),
    (2019.64, 2082.08), (2019.67, 2081.26), (2019.71, 2080.96), (2019.73, 2080.44),
    (2019.75, 2081.14), (2019.78, 2081.03), (2019.81, 2081.14), (2019.85, 2081.03),
    (2019.87, 2080.68),
    (2020.08, 2082.48), (2020.11, 2083.01), (2020.15, 2083.06), (2020.18, 2083.13),
    (2020.22, 2082.97), (2020.25, 2082.83), (2020.29, 2083.01), (2020.32, 2082.66),
    (2020.36, 2082.90), (2020.39, 2082.36), (2020.43, 2082.83), (2020.46, 2081.38),
    (2020.50, 2080.96), (2020.53, 2079.28), (2020.57, 2079.32), (2020.60, 2079.23),
    (2020.63, 2078.62), (2020.65, 2078.53), (2020.68, 2077.92), (2020.72, 2079.16),
    (2020.74, 2079.51), (2020.77, 2079.79), (2020.80, 2080.09), (2020.82, 2080.44),
    (2020.85, 2080.68), (2020.88, 2080.91), (2020.91, 2081.19),
    (2021.12, 2082.48), (2021.15, 2082.59), (2021.19, 2082.90), (2021.23, 2083.25),
    (2021.26, 2083.13), (2021.30, 2083.01), (2021.33, 2082.36), (2021.37, 2083.01),
    (2021.40, 2082.78), (2021.44, 2083.13),
]

ins_256 = [
    (2015.24, 2080.91), (2015.35, 2080.86), (2015.49, 2080.79), (2015.63, 2080.79),
    (2015.66, 2077.87), (2015.70, 2074.72), (2015.77, 2074.79), (2015.80, 2074.65),
    (2015.91, 2078.81), (2015.98, 2079.51), (2016.08, 2080.21), (2016.15, 2080.63),
    (2016.26, 2080.79), (2016.51, 2080.79), (2016.54, 2077.29), (2016.58, 2075.12),
    (2016.65, 2077.41), (2016.68, 2078.34), (2016.72, 2077.99), (2016.75, 2077.52),
    (2016.79, 2077.45), (2016.82, 2076.59), (2016.86, 2077.41), (2016.93, 2079.16),
    (2017.00, 2080.33), (2017.07, 2080.72), (2017.18, 2080.79), (2017.46, 2080.79),
    (2017.50, 2078.81), (2017.53, 2078.57), (nan, nan),
    (2017.77, 2078.34), (2017.80, 2079.98), (2017.89, 2080.09), (2017.96, 2080.33),
    (2018.03, 2080.56), (2018.10, 2080.44), (2018.17, 2080.63), (2018.27, 2080.79),
    (2018.34, 2080.79), (2018.37, 2079.74), (2018.41, 2077.06), (2018.44, 2076.94),
    (2018.48, 2073.08), (2018.58, 2074.60), (2018.69, 2075.54), (2018.76, 2075.96),
    (2018.80, 2075.77), (nan, nan),
    (2018.83, 2076.94), (2018.90, 2077.87), (2019.01, 2079.04), (2019.08, 2079.98),
    (2019.15, 2080.63), (2019.25, 2080.79), (2019.57, 2080.79), (2019.64, 2079.51),
    (2019.68, 2078.22), (2019.71, 2076.47), (2019.75, 2074.60), (2019.78, 2075.77),
    (2019.85, 2077.17), (2019.96, 2079.04), (2020.03, 2079.98), (2020.10, 2080.68),
    (2020.17, 2080.79), (2020.42, 2080.79), (2020.46, 2079.51), (2020.53, 2074.60),
    (2020.56, 2071.80), (2020.60, 2073.43), (2020.63, 2072.73), (2020.67, 2072.15),
    (2020.74, 2073.43), (2020.81, 2074.84), (2020.91, 2075.77), (2021.00, 2076.71),
    (2021.08, 2077.64), (2021.19, 2079.04), (2021.27, 2080.79), (2021.31, 2080.79),
    (2021.34, 2078.81), (2021.37, 2079.74), (2021.41, 2079.74), (2021.44, 2076.94),
]


def split(pairs):
    arr = np.array(pairs, dtype=float)
    return arr[:, 0], arr[:, 1]


def draw_panel(ax, title, orig, lbdem, ins, xlim, ylim, yticks, legend_at):
    ax.plot(*orig, "o", ms=2.2, mew=0, color=BLUE, label="Original")
    ax.plot(*lbdem, "o", ms=2.2, mew=0, color=RED, label="LBDEM")
    ax.plot(*ins, "-", lw=0.8, color=YELLOW, label="INS")

    ax.set_xlim(*xlim)
    ax.set_ylim(*ylim)
    ax.set_xticks(YEARS)
    ax.set_xticklabels([str(y) for y in YEARS])
    ax.set_yticks(yticks)
    ax.grid(True, color="#e0e0e0", lw=0.6)
    ax.set_axisbelow(True)
    ax.tick_params(direction="in", top=True, right=True, length=3, width=0.5,
                   labelsize=7.8, colors=INK, pad=3)
    for spine in ax.spines.values():
        spine.set_color(INK)
        spine.set_linewidth(0.6)

    ax.set_title(title, fontsize=8.2, fontweight="bold", pad=4)
    ax.set_xlabel("Time", fontsize=8, color=INK, labelpad=1)
    ax.set_ylabel("Elevation [m]", fontsize=8, color=INK, labelpad=2)

    leg = ax.legend(loc="upper left", bbox_to_anchor=legend_at, borderaxespad=0,
                    fontsize=6.6, frameon=True, fancybox=False, framealpha=1,
                    edgecolor=INK, borderpad=0.25, labelspacing=0.05,
                    handlelength=2.4, handletextpad=0.15, markerscale=0.9)
    leg.get_frame().set_linewidth(0.6)
    # the INS entry is only a faint short stroke
    ins_handle = leg.get_lines()[2]
    ins_handle.set_linewidth(0.4)
    ins_handle.set_alpha(0.35)


fig = plt.figure(figsize=(11.09, 5.33), dpi=100)

W, H = 1109, 533


def axes_px(left, top, right, bottom):
    return fig.add_axes([left / W, 1 - bottom / H, (right - left) / W, (bottom - top) / H])


ax1 = axes_px(50, 28, 349, 240)
ax2 = axes_px(433, 28, 732, 239)
ax3 = axes_px(818, 30, 1117, 240)
ax4 = axes_px(50, 291, 349, 504)
ax5 = axes_px(435, 295, 728, 505)
ax6 = axes_px(815, 290, 1114, 504)

full_range = (2015.23, 2021.58)

draw_panel(ax1, "ALOS for USGS ID- R06893885  R$^\\mathbf{2}$ with 0.82",
           (dates_885, alos_orig), (dates_885, alos_lbdem), (ins_885_t, ins_885_v),
           full_range, (202, 220), range(202, 221, 2), (0.054, 0.943))

draw_panel(ax2, "SRTM for USGS ID- R04288500  R$^\\mathbf{2}$ with 0.81",
           split(srtm288_orig), split(srtm288_lbdem), split(ins_288),
           (2015.66, 2021.75), (1800, 1818), range(1800, 1819, 2), (0.03, 0.185))

draw_panel(ax3, "SRTM for USGS ID- R06893885  R$^\\mathbf{2}$ with 0.92",
           (dates_885, srtm885_orig), (dates_885, srtm885_lbdem), (ins_885_t, ins_885_v),
           full_range, (202, 218), range(202, 219, 2), (0.706, 0.195))

draw_panel(ax4, "SRTM for USGS ID- R03046500  R$^\\mathbf{2}$ with 0.89",
           split(srtm046_orig), split(srtm046_lbdem), split(ins_046),
           full_range, (635, 650), range(635, 651, 5), (0.033, 0.967))

draw_panel(ax5, "NED for USGS ID- R06893885  R$^\\mathbf{2}$ with 0.83",
           (dates_885, ned885_orig), (dates_885, ned885_lbdem), (ins_885_t, ins_885_v),
           full_range, (200, 230), range(200, 231, 5), (0.761, 0.738))

draw_panel(ax6, "NED for USGS ID- R03256500  R$^\\mathbf{2}$ with 0.87",
           (dates_256, ned256_orig), split(ned256_lbdem), split(ins_256),
           full_range, (2070, 2085), range(2070, 2086, 5), (0.023, 0.215))

fig.savefig("out.png", dpi=100)
